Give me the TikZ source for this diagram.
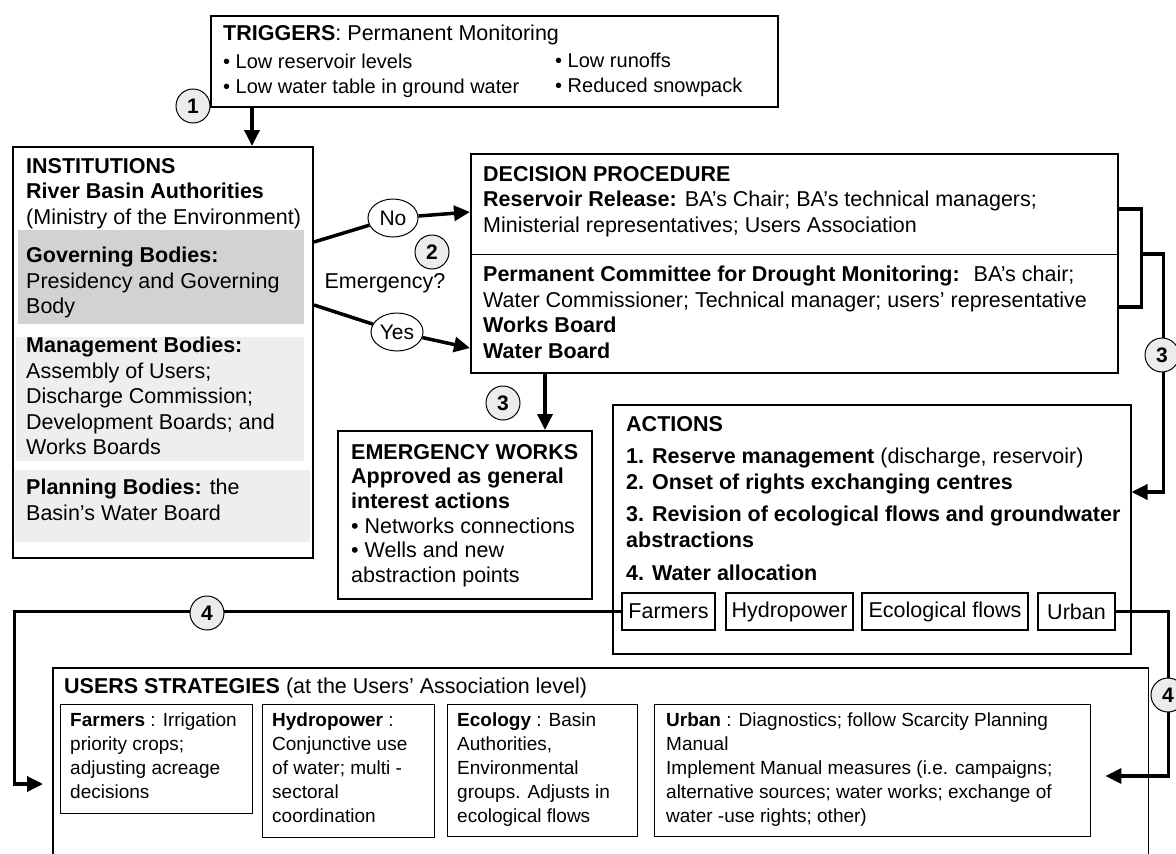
\documentclass[tikz,border=0pt]{standalone}
\usepackage{fontspec}
\setmainfont{Liberation Sans}
\usepackage{tikz}
\usetikzlibrary{arrows.meta,calc,shapes.geometric}

\begin{document}
\begin{tikzpicture}
        [   x = 1pt
        ,   y = -1pt
        ,   box/.style =
            {   draw
            ,   line width = 1.5pt
            ,   anchor = north west
            ,   inner sep = 0pt
            }
        ,   band/.style =
            {   anchor = north west
            ,   inner sep = 0pt
            ,   fill = #1
            }
        ,   txt/.style =
            {   anchor = north west
            ,   inner sep = 0pt
            ,   align = left
            ,   font = \fontsize{21.5}{25.5}\selectfont
            ,   execute at begin node = \strut
            }
        ,   small/.style =
            {   txt
            ,   font = \fontsize{19}{24}\selectfont
            }
        ,   conn/.style = {line width = 3.5pt}
        ,   arr/.style = {conn, -{Triangle[length=16pt, width=15pt]}}
        ,   num/.style =
            {   circle
            ,   draw
            ,   fill = gray!15
            ,   line width = 1pt
            ,   minimum size = 34pt
            ,   inner sep = 0pt
            ,   font = \fontsize{21}{25}\selectfont\bfseries
            }
        ,   answer/.style =
            {   ellipse
            ,   draw
            ,   fill = white
            ,   line width = 1pt
            ,   minimum width = 50pt
            ,   minimum height = 38pt
            ,   inner sep = 0pt
            ,   font = \fontsize{21}{25}\selectfont
            }
        ,   alloc/.style =
            {   draw
            ,   line width = 1.3pt
            ,   minimum height = 37pt
            ,   inner sep = 0pt
            ,   font = \fontsize{21.5}{25}\selectfont
            }
        ]
        \useasboundingbox (0,0) rectangle (1176,854);

        \node[box, minimum width=567, minimum height=91] (trig) at (210,15) {};
        \node[txt] (trigtxt) at (223,25)
            {\textbf{TRIGGERS}: Permanent Monitoring\\[2pt]
             {\fontsize{20}{25}\selectfont • Low reservoir levels}\\
             {\fontsize{20}{25}\selectfont • Low water table in ground water}};
        \node[txt, font=\fontsize{20}{25}\selectfont] (trigtxt2) at (555,53)
            {• Low runoffs\\
             • Reduced snowpack};

        \node[box, line width=2pt, minimum width=300, minimum height=411] (inst) at (12,146) {};
        \node[band=gray!35, minimum width=286, minimum height=94] (gov) at (18,230) {};
        \node[band=gray!13, minimum width=288, minimum height=124] (man) at (16,337) {};
        \node[band=gray!13, minimum width=295, minimum height=72] (plan) at (15,470) {};
        \node[txt] (insttxt) at (26,158)
            {\textbf{INSTITUTIONS}\\
             \textbf{River Basin Authorities}\\
             (Ministry of the Environment)};
        \node[txt] (govtxt) at (26,247)
            {\textbf{Governing Bodies:}\\
             Presidency and Governing\\
             Body};
        \node[txt] (mantxt) at (26,337)
            {\textbf{Management Bodies:}\\
             Assembly of Users;\\
             Discharge Commission;\\
             Development Boards; and\\
             Works Boards};
        \node[txt] (plantxt) at (26,479)
            {\textbf{Planning Bodies:} the\\
             Basin’s Water Board};

        \node[box, minimum width=647, minimum height=219] (dec) at (470,153) {};
        \draw[line width=1pt] ($(dec.north west)+(0,101)$) -- ($(dec.north east)+(0,101)$);
        \node[txt] (dectxt) at (483,166)
            {\textbf{DECISION PROCEDURE}\\
             \textbf{Reservoir Release:} BA’s Chair; BA’s technical managers;\\
             Ministerial representatives; Users Association};
        \node[txt] (comtxt) at (483,266)
            {\textbf{Permanent Committee for Drought Monitoring:} \ BA’s chair;\\
             Water Commissioner; Technical manager; users’ representative\\
             \textbf{Works Board}\\
             \textbf{Water Board}};

        \node[box, minimum width=254, minimum height=168] (emw) at (337,430) {};
        \node[txt, font=\fontsize{21.5}{24.6}\selectfont] (emwtxt) at (351,444)
            {\textbf{EMERGENCY WORKS}\\
             \textbf{Approved as general}\\
             \textbf{interest actions}\\
             • Networks connections\\
             • Wells and new\\
             abstraction points};

        \node[box, minimum width=518, minimum height=249] (act) at (612,404) {};
        \node[txt] (acttxt) at (626,416)
            {\textbf{ACTIONS}\\[7pt]
             \textbf{1. Reserve management} (discharge, reservoir)\\
             \textbf{2. Onset of rights exchanging centres}\\[7pt]
             \textbf{3. Revision of ecological flows and groundwater}\\
             \textbf{abstractions}\\[8pt]
             \textbf{4. Water allocation}};
        \node[alloc, minimum width=93] (fa) at (668.5,611.5) {Farmers};
        \node[alloc, minimum width=127] (hy) at (789.5,611.5) {Hydropower};
        \node[alloc, minimum width=166] (ec) at (945,611.5) {Ecological flows};
        \node[alloc, minimum width=77] (ur) at (1076.5,611.5) {Urban};

        \node[anchor=north west, inner sep=0pt, minimum width=1095, minimum height=186] (us) at (53,668) {};
        \draw[line width=1.5pt] (us.south west) -- (us.north west) -- (us.north east) -- (us.south east);
        \node[txt] (ustxt) at (64,675)
            {\textbf{USERS STRATEGIES} (at the Users’ Association level)};
        \node[box, line width=1.3pt, minimum width=192, minimum height=109] (sfa) at (60,704) {};
        \node[small] (sfatxt) at (70,713)
            {\textbf{Farmers} : Irrigation\\
             priority crops;\\
             adjusting acreage\\
             decisions};
        \node[box, line width=1.3pt, minimum width=172, minimum height=133] (shy) at (262,704) {};
        \node[small] (shytxt) at (272,713)
            {\textbf{Hydropower} :\\
             Conjunctive use\\
             of water; multi -\\
             sectoral\\
             coordination};
        \node[box, line width=1.3pt, minimum width=190, minimum height=132] (sec) at (447,704) {};
        \node[small] (sectxt) at (457,713)
            {\textbf{Ecology} : Basin\\
             Authorities,\\
             Environmental\\
             groups. Adjusts in\\
             ecological flows};
        \node[box, line width=1.3pt, minimum width=436, minimum height=132] (sur) at (654,704) {};
        \node[small] (surtxt) at (666,713)
            {\textbf{Urban} : Diagnostics; follow Scarcity Planning\\
             Manual\\
             Implement Manual measures (i.e. campaigns;\\
             alternative sources; water works; exchange of\\
             water -use rights; other)};

        \coordinate (t1) at ($(trig.south west)+(42,0)$);
        \draw[arr] (t1) -- (t1 |- inst.north);

        \node[answer] (no) at (393,218) {No};
        \node[answer, minimum width=52pt] (yes) at (397,332) {Yes};
        \draw[conn] ($(inst.north east)+(0,96)$) -- (no);
        \draw[arr] (no) -- ($(dec.north west)+(0,59)$);
        \draw[conn] ($(inst.north east)+(0,159)$) -- (yes);
        \draw[arr] (yes) -- ($(dec.north west)+(0,195)$);
        \node[inner sep=0pt, font=\fontsize{21.5}{25}\selectfont] (emq) at (385,283) {Emergency?};

        \coordinate (d3) at ($(dec.south west)+(75,0)$);
        \draw[arr] (d3) -- (d3 |- emw.north);

        \draw[conn] ($(dec.north east)+(0,56)$) -| ($(dec.north east)+(23,154)$) -- ($(dec.north east)+(0,154)$);
        \coordinate (a3) at ($(act.north east)+(0,88)$);
        \draw[arr] ($(dec.north east)+(23,101)$) -| ($(a3)+(32,0)$) -- (a3);

        \coordinate (u4l) at ($(us.north west)+(-10,116)$);
        \draw[arr] (fa.west) -- ++(-607,0) |- (u4l);
        \coordinate (u4r) at ($(us.north east)+(-43,108)$);
        \draw[arr] (ur.east) -- ++(53,0) |- (u4r);

        \node[num] (n1) at (193,106) {1};
        \node[num] (n2) at (432,252) {2};
        \node[num] (n3a) at (503,403) {3};
        \node[num] (n3b) at (1162,355) {3};
        \node[num] (n4a) at (207,613) {4};
        \node[num] (n4b) at (1168,695) {4};
\end{tikzpicture}
\end{document}
